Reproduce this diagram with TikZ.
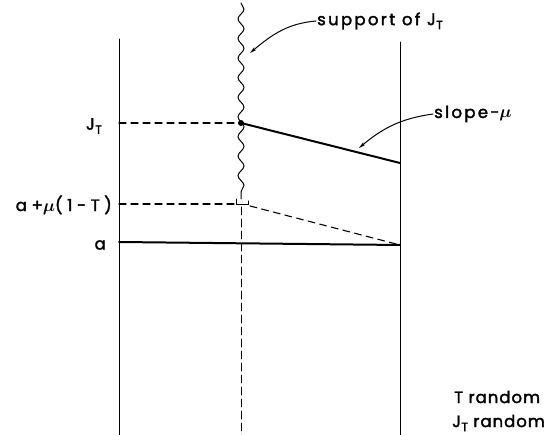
\documentclass[tikz,border=0pt]{standalone}
\usepackage{fontspec}
\usepackage{bm}
\setmainfont{Poppins}[LetterSpace=14, FakeBold=2]
\newfontfamily\tightfont{Poppins}[LetterSpace=6, FakeBold=2]
\newfontfamily\widefont{Poppins}[LetterSpace=28, FakeBold=2]
\usetikzlibrary{arrows.meta,decorations.pathmorphing,positioning}

\newcommand{\JT}{J\kern0.5pt\raisebox{-0.45ex}{\fontsize{12}{13}\selectfont T}}

\begin{document}
\begin{tikzpicture}[x=1pt, y=-1pt, line cap=round,
    lbl/.style = {inner sep=1pt, font=\fontsize{16.5}{18}\selectfont},
    note/.style = {inner sep=1pt, font=\tightfont\fontsize{16.5}{18}\selectfont},
    wall/.style = {line width=0.7pt},
    guide/.style = {line width=1.1pt, dash pattern=on 7pt off 5pt},
    heavy/.style = {line width=2pt},
    pointer/.style = {-{Stealth[length=7pt,width=3.5pt]}, line width=1pt}]
            \useasboundingbox (0,0) rectangle (553,435);

            % points of the picture
            \coordinate (L0) at (119,39);
            \coordinate (L1) at (119,435);
            \coordinate (R0) at (400,42);
            \coordinate (R1) at (400,435);
            \coordinate (W0) at (241,3);
            \coordinate (W1) at (241,199);
            \coordinate (M1) at (241,435);
            \coordinate (LJ) at (119,123);
            \coordinate (J) at (241,123);
            \coordinate (RJ) at (400,163);
            \coordinate (LB) at (119,204);
            \coordinate (B) at (236,204);
            \coordinate (B1) at (250,206);
            \coordinate (LA) at (119,242);
            \coordinate (RA) at (400,245);

            \draw[wall] (L0) -- (L1);
            \draw[wall] (R0) -- (R1);
            \draw[line width=1pt, decorate, decoration={snake, segment length=19.6pt, amplitude=3pt}] (W0) -- (W1);
            \draw[wall, dash pattern=on 8pt off 4pt] (241,207) -- (M1);

            \draw[guide] (LJ) -- (J);
            \draw[guide] (LB) -- (B);
            \draw[line width=1pt] (236,199) |- (248,205) -- (248,201);
            \draw[guide] (B1) -- (RA);
            \draw[heavy] (LA) -- (RA);
            \draw[heavy] (J) -- (RJ);
            \fill (J) circle (3pt);

            \node[lbl, anchor=east] (jt) at (103,126) {\JT};
            \node[lbl, anchor=east, font=\widefont\fontsize{16.5}{18}\selectfont] (amu) at (113,205) {a+$\bm{\mu}$(1-T)};
            \node[lbl, anchor=east] (a) at (107,245) {a};

            \node[lbl, anchor=west] (supp) at (316,21) {support of \JT};
            \node[lbl, anchor=west] (slope) at (433,114) {slope-$\bm{\mu}$};
            \coordinate (sarrow) at (250,53);
            \coordinate (parrow) at (359,148);
            \draw[pointer] (supp.west) to[out=185,in=40] (sarrow);
            \draw[pointer] (slope.west) to[out=188,in=40] (parrow);

            \node[note, anchor=west] (trand) at (453,397) {T random};
            \node[note, anchor=west] (jrand) at (451,423) {\JT\ random};

        \end{tikzpicture}
\end{document}
